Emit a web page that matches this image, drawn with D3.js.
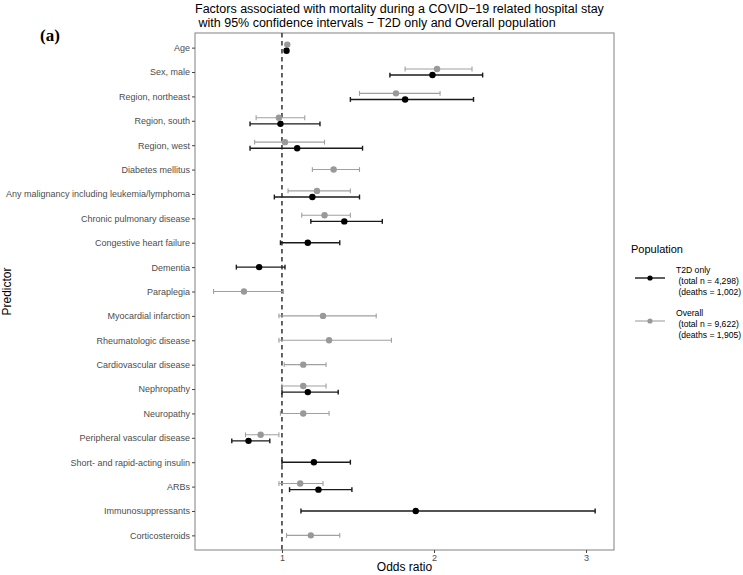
<!DOCTYPE html>
<html>
<head>
<meta charset="utf-8">
<script src="https://cdn.jsdelivr.net/npm/d3@7"></script>
<style>
  html, body { margin: 0; padding: 0; background: #fff; }
  svg { display: block; font-family: "Liberation Sans", Arial, Helvetica, sans-serif; }
</style>
</head>
<body>
<svg id="chart" width="743" height="575"></svg>
<script>
const predictors = [
  "Age", "Sex, male", "Region, northeast", "Region, south", "Region, west",
  "Diabetes mellitus", "Any malignancy including leukemia/lymphoma",
  "Chronic pulmonary disease", "Congestive heart failure", "Dementia",
  "Paraplegia", "Myocardial infarction", "Rheumatologic disease",
  "Cardiovascular disease", "Nephropathy", "Neuropathy",
  "Peripheral vascular disease", "Short\u2010 and rapid\u2010acting insulin",
  "ARBs", "Immunosuppressants", "Corticosteroids"
];

// T2D only
const t2dEst = [1.03, 1.99, 1.81, 0.99, 1.10, null, 1.20, 1.41, 1.17, 0.85, null, null, null, null, 1.17, null, 0.78, 1.21, 1.24, 1.88, null];
const t2dLo  = [1.02, 1.71, 1.45, 0.79, 0.79, null, 0.95, 1.19, 0.99, 0.70, null, null, null, null, 1.00, null, 0.67, 1.00, 1.05, 1.125, null];
const t2dHi  = [1.04, 2.32, 2.26, 1.25, 1.53, null, 1.51, 1.66, 1.38, 1.02, null, null, null, null, 1.37, null, 0.92, 1.45, 1.46, 3.06, null];
// Overall
const allEst = [1.035, 2.02, 1.75, 0.98, 1.02, 1.34, 1.23, 1.28, null, null, 0.75, 1.27, 1.31, 1.14, 1.14, 1.14, 0.86, null, 1.12, null, 1.19];
const allLo  = [1.025, 1.81, 1.51, 0.83, 0.82, 1.20, 1.04, 1.13, null, null, 0.55, 0.98, 0.98, 1.015, 1.00, 0.99, 0.76, null, 0.98, null, 1.03];
const allHi  = [1.045, 2.25, 2.04, 1.15, 1.28, 1.51, 1.45, 1.45, null, null, 1.01, 1.62, 1.72, 1.29, 1.29, 1.31, 0.98, null, 1.27, null, 1.38];

const xTicks = [1, 2, 3];
const titleLines = ["Factors associated with mortality during a COVID\u221219 related hospital stay",
                    " with 95% confidence intervals \u2212 T2D only and Overall population"];
const legendTitle = "Population";
const legendEntries = [
  { name: "T2D only", lines: ["T2D only", " (total n = 4,298)", " (deaths = 1,002)"] },
  { name: "Overall",  lines: ["Overall", " (total n = 9,622)", " (deaths = 1,905)"] }
];
const colors = { "T2D only": "#000000", "Overall": "#999999" };
const lineColors = { "T2D only": "#1a1a1a", "Overall": "#a0a0a0" };

const svg = d3.select("#chart");
const panel = { left: 195, right: 614, top: 33, bottom: 550 };

const x = d3.scaleLinear().domain([0.428, 3.184]).range([panel.left, panel.right]);
const y = d3.scalePoint().domain(predictors).range([panel.top, panel.bottom]).padding(0.6);
const step = y.step();
const dodge = 0.125 * step;
const cap = 0.1 * step;

const rows = [];
predictors.forEach((p, i) => {
  const hasT = t2dEst[i] != null, hasA = allEst[i] != null;
  const both = hasT && hasA;
  if (hasA) rows.push({ p, s: "Overall", est: allEst[i], lo: allLo[i], hi: allHi[i], off: both ? -dodge : 0 });
  if (hasT) rows.push({ p, s: "T2D only", est: t2dEst[i], lo: t2dLo[i], hi: t2dHi[i], off: both ? dodge : 0 });
});

svg.append("rect")
  .attr("x", panel.left).attr("y", panel.top)
  .attr("width", panel.right - panel.left).attr("height", panel.bottom - panel.top)
  .attr("fill", "none").attr("stroke", "#8c8c8c").attr("stroke-width", 1.1);

svg.append("line")
  .attr("x1", x(1)).attr("x2", x(1))
  .attr("y1", panel.top).attr("y2", panel.bottom)
  .attr("stroke", "#222").attr("stroke-width", 1.4)
  .attr("stroke-dasharray", "4.5,3.5");

const g = svg.append("g");
rows.forEach(r => {
  const yy = y(r.p) + r.off;
  const sw = r.s === "T2D only" ? 1.4 : 1.1;
  const c = lineColors[r.s];
  g.append("line").attr("x1", x(r.lo)).attr("x2", x(r.hi)).attr("y1", yy).attr("y2", yy)
    .attr("stroke", c).attr("stroke-width", sw);
  [r.lo, r.hi].forEach(v => {
    g.append("line").attr("x1", x(v)).attr("x2", x(v)).attr("y1", yy - cap).attr("y2", yy + cap)
      .attr("stroke", c).attr("stroke-width", sw);
  });
});
rows.forEach(r => {
  g.append("circle").attr("cx", x(r.est)).attr("cy", y(r.p) + r.off)
    .attr("r", 3.2).attr("fill", colors[r.s]);
});

const xAxis = svg.append("g").attr("transform", `translate(0,${panel.bottom})`)
  .call(d3.axisBottom(x).tickValues(xTicks).tickFormat(d3.format("d")).tickSize(3).tickPadding(2));
xAxis.select(".domain").remove();
xAxis.selectAll(".tick line").attr("stroke", "#444");
xAxis.selectAll(".tick text").attr("fill", "#4d4d4d").style("font-size", "9px").style("font-family", "Liberation Sans, Arial, sans-serif");

const yAxis = svg.append("g").attr("transform", `translate(${panel.left},0)`)
  .call(d3.axisLeft(y).tickSize(3).tickPadding(2));
yAxis.select(".domain").remove();
yAxis.selectAll(".tick line").attr("stroke", "#444");
yAxis.selectAll(".tick text").attr("fill", "#4d4d4d").style("font-size", "9px").style("font-family", "Liberation Sans, Arial, sans-serif");

svg.append("text").attr("x", (panel.left + panel.right) / 2).attr("y", 571)
  .attr("text-anchor", "middle").style("font-size", "12px").attr("fill", "#000").text("Odds ratio");
svg.append("text").attr("transform", `translate(11,${(panel.top + panel.bottom) / 2}) rotate(-90)`)
  .attr("text-anchor", "middle").style("font-size", "12px").attr("fill", "#000").text("Predictor");

titleLines.forEach((t, i) => {
  svg.append("text").attr("x", panel.left).attr("y", 13 + i * 14)
    .style("font-size", "12.5px").style("white-space", "pre").attr("xml:space", "preserve")
    .attr("fill", "#000").text(t);
});

svg.append("text").attr("x", 40).attr("y", 41)
  .style("font-family", "Liberation Serif, Times New Roman, serif").style("font-weight", "bold")
  .style("font-size", "17px").attr("fill", "#000").text("(a)");

const lg = svg.append("g");
lg.append("text").attr("x", 631).attr("y", 253).style("font-size", "11px").attr("fill", "#000").text(legendTitle);
legendEntries.forEach((e, i) => {
  const cy = 278 + i * 43;
  lg.append("line").attr("x1", 635).attr("x2", 665).attr("y1", cy).attr("y2", cy)
    .attr("stroke", lineColors[e.name]).attr("stroke-width", e.name === "T2D only" ? 1.4 : 1.1);
  lg.append("circle").attr("cx", 650).attr("cy", cy).attr("r", 2.6).attr("fill", colors[e.name]);
  e.lines.forEach((l, j) => {
    lg.append("text").attr("x", 676).attr("y", cy - 5 + j * 11)
      .style("font-size", "8.6px").attr("xml:space", "preserve").style("white-space", "pre")
      .attr("fill", "#000").text(l);
  });
});
</script>
</body>
</html>
